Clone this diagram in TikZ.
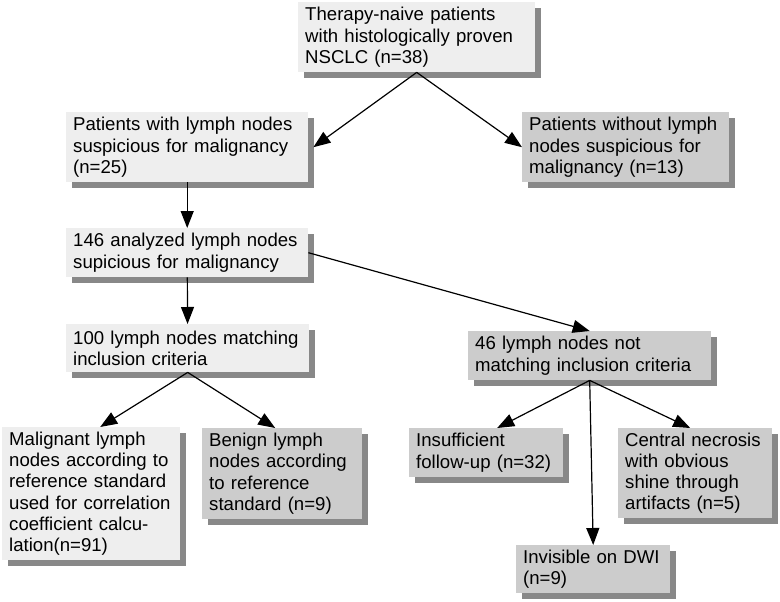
\documentclass[tikz,border=0pt]{standalone}
\usepackage{fontspec}
\setmainfont{Liberation Sans}
\usetikzlibrary{arrows.meta,shadows}
\definecolor{boxlight}{HTML}{EEEEEE}
\definecolor{boxdark}{HTML}{CCCCCC}
\definecolor{shadowgray}{HTML}{888888}
\tikzset{
  font=\fontsize{18.6}{21.2}\selectfont,
  flow/.style={-{Triangle[length=17pt,width=13pt]},line width=1.2pt,draw=black},
  box/.style={anchor=north west,fill=boxlight,inner xsep=7pt,inner ysep=0pt,align=left,
    drop shadow={shadow xshift=6pt,shadow yshift=-6pt,fill=shadowgray,opacity=1}},
  excluded/.style={box,fill=boxdark}
}
\begin{document}
\begin{tikzpicture}[x=1pt,y=-1pt]
\useasboundingbox (0,0) rectangle (780,602);
% patients
\node[box,text width=223pt,minimum height=70pt] (naive) at (298,2) {Therapy-naive patients\\with histologically proven\\NSCLC (n=38)};
\node[box,text width=228pt,minimum height=70pt] (suspect) at (66,112) {Patients with lymph nodes\\suspicious for malignancy\\(n=25)};
\node[excluded,text width=193pt,minimum height=70pt] (nosuspect) at (522,112) {Patients without lymph\\nodes suspicious for\\malignancy (n=13)};
\draw[flow] (naive.south) -- ([xshift=5pt]suspect.east);
\draw[flow] (naive.south) -- (nosuspect.west);

% lymph nodes
\node[box,text width=228pt,minimum height=49pt] (analyzed) at (66,228) {146 analyzed lymph nodes\\supicious for malignancy};
\node[box,text width=229pt,minimum height=48pt] (match) at (66,324) {100 lymph nodes matching\\inclusion criteria};
\node[excluded,text width=229pt,minimum height=49pt] (nomatch) at (468,331) {46 lymph nodes not\\matching inclusion criteria};
\draw[flow] (suspect) -- (analyzed);
\draw[flow] (analyzed) -- (match);
\draw[flow] (analyzed.east) -- (nomatch.north);

% outcome
\node[box,text width=164pt,minimum height=133pt] (malign) at (2,427) {Malignant lymph\\nodes according to\\reference standard\\used for correlation\\coefficient calcu-\\lation(n=91)};
\node[excluded,text width=146pt,minimum height=91pt] (benign) at (202,428) {Benign lymph\\nodes according\\to reference\\standard (n=9)};
\node[excluded,text width=140pt,minimum height=49pt] (followup) at (409,428) {Insufficient\\follow-up (n=32)};
\node[excluded,text width=140pt,minimum height=90pt] (necrosis) at (618,428) {Central necrosis\\with obvious\\shine through\\artifacts (n=5)};
\node[excluded,text width=140pt,minimum height=48pt] (invisible) at (516,545) {Invisible on DWI\\(n=9)};
\draw[flow] (match.south) -- ([xshift=9pt]malign.north);
\draw[flow] (match.south) -- ([xshift=-7pt]benign.north);
\draw[flow] (nomatch.south) -- ([xshift=11pt]followup.north);
\draw[flow] (nomatch.south) -- ([xshift=-5pt]necrosis.north);
\draw[flow] (nomatch.south) -- (invisible.north);
\end{tikzpicture}
\end{document}
